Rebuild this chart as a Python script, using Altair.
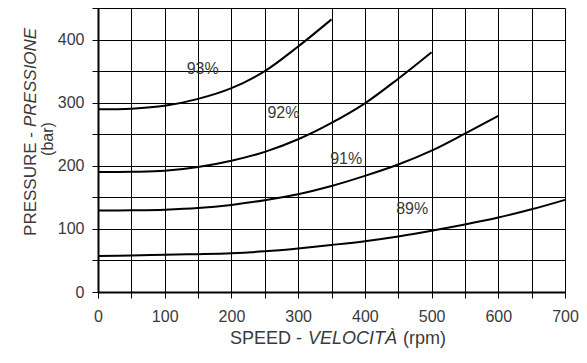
import altair as alt
import pandas as pd

# Curve data (rpm -> bar)
rpm_93 = [0, 50, 100, 150, 200, 250, 300, 350]
bar_93 = [289.5, 290.5, 295, 306, 323, 350, 389, 432]

rpm_92 = [0, 50, 100, 150, 200, 250, 300, 350, 400, 450, 500]
bar_92 = [190, 190.5, 192, 198, 208, 222, 242, 268, 299, 338, 380]

rpm_91 = [0, 50, 100, 150, 200, 250, 300, 350, 400, 450, 500, 550, 600]
bar_91 = [129, 129.5, 130.5, 133, 138, 145.5, 155, 168, 184, 202, 224, 251, 279]

rpm_89 = [0, 50, 100, 150, 200, 250, 300, 350, 400, 450, 500, 550, 600, 650, 700]
bar_89 = [57, 58, 59, 60, 61.5, 64.5, 69, 74.5, 80.5, 88, 97, 107, 118, 131, 146]

curve_names = ["93%", "92%", "91%", "89%"]
label_rpm = [157, 278, 372, 471]
label_bar = [353, 283, 211, 131]

x_ticks = list(range(0, 701, 50))
y_ticks = list(range(0, 451, 50))

FONT = "Liberation Sans, Arial, sans-serif"
TXT = "#3a3a3a"

rows = []
for name, xs, ys in [("93%", rpm_93, bar_93), ("92%", rpm_92, bar_92),
                     ("91%", rpm_91, bar_91), ("89%", rpm_89, bar_89)]:
    for a, b in zip(xs, ys):
        rows.append({"curve": name, "rpm": a, "bar": b})
df = pd.DataFrame(rows)
labels = pd.DataFrame({"name": curve_names, "rpm": label_rpm, "bar": label_bar})

xscale = alt.Scale(domain=[0, 700], nice=False)
yscale = alt.Scale(domain=[0, 450], nice=False)

xaxis = alt.Axis(values=x_ticks, labelExpr="datum.value % 100 == 0 ? datum.label : ''",
                 grid=True, gridColor="#000000", gridWidth=1, gridOpacity=1,
                 domainColor="#000000", domainWidth=2, tickColor="#000000", tickSize=6,
                 labelFont=FONT, labelFontSize=16, labelColor=TXT, labelPadding=10,
                 labelFlush=False, title="")
yaxis = alt.Axis(values=y_ticks,
                 labelExpr="(datum.value % 100 == 0 && datum.value <= 400) ? datum.label : ''",
                 grid=True, gridColor="#000000", gridWidth=1, gridOpacity=1,
                 domainColor="#000000", domainWidth=2, tickColor="#000000", tickSize=6,
                 labelFont=FONT, labelFontSize=16, labelColor=TXT, labelPadding=8,
                 labelFlush=False, title="")

lines = alt.Chart(df).mark_line(color="#000000", strokeWidth=2, interpolate="catmull-rom").encode(
    x=alt.X("rpm:Q", scale=xscale, axis=xaxis),
    y=alt.Y("bar:Q", scale=yscale, axis=yaxis),
    detail="curve:N",
)

curve_text = alt.Chart(labels).mark_text(font=FONT, fontSize=16, color=TXT).encode(
    x=alt.X("rpm:Q", scale=xscale, axis=xaxis),
    y=alt.Y("bar:Q", scale=yscale, axis=yaxis),
    text="name:N",
)

def fixed_text(txt, px, py, align="center", italic=False, angle=0, size=17):
    d = pd.DataFrame({"t": [txt]})
    kw = dict(font=FONT, fontSize=size, color=TXT, align=align, baseline="middle")
    if italic:
        kw["fontStyle"] = "italic"
    if angle:
        kw["angle"] = angle
    return alt.Chart(d).mark_text(**kw).encode(
        x=alt.value(px), y=alt.value(py), text="t:N")

# view origin is at absolute (98, 8)
OX, OY = 98, 8
yt1 = fixed_text("PRESSURE -", 31 - OX, 132 - OY, align="right", angle=270)
yt2 = fixed_text("PRESSIONE", 31 - OX, 127 - OY, align="left", italic=True, angle=270)
yt3 = fixed_text("(bar)", 48 - OX, 139 - OY, angle=270, size=16)
xt1 = fixed_text("SPEED -", 302 - OX, 339 - OY, align="right", size=18)
xt2 = fixed_text("VELOCITÀ", 308 - OX, 339 - OY, align="left", italic=True, size=18)
xt3 = fixed_text("(rpm)", 403 - OX, 339 - OY, align="left", size=18)

chart = alt.layer(lines, curve_text, yt1, yt2, yt3, xt1, xt2, xt3).properties(
    width=467, height=284,
    autosize=alt.AutoSizeParams(type="none"),
    padding={"left": 90, "top": 0, "right": 14, "bottom": 58},
).configure_view(stroke="#000000", strokeWidth=2).configure(background="#ffffff")

chart.save("out.html", embed_options={"renderer": "svg", "actions": False})
